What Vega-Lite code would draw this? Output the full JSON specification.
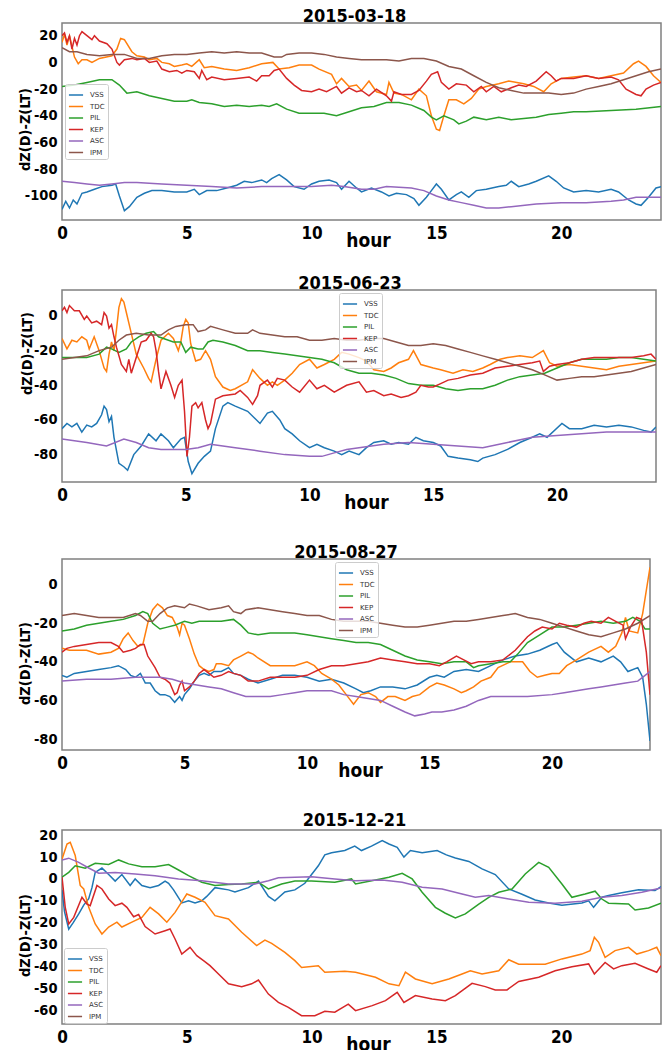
{
"$schema": "https://vega.github.io/schema/vega-lite/v6.json",
"background": "white",
"padding": {"left": 16, "top": 6, "right": 5, "bottom": 5},
"columns": 1,
"align": "none",
"spacing": 22,
"resolve": {"scale": {"color": "independent", "y": "independent", "x": "independent"}, "legend": {"color": "independent"}},
"datasets": {
"d1": [
{"s":"VSS","h":0,"v":-110},{"s":"VSS","h":0.15,"v":-104},{"s":"VSS","h":0.3,"v":-109},{"s":"VSS","h":0.45,"v":-103},{"s":"VSS","h":0.6,"v":-106},{"s":"VSS","h":0.8,"v":-98},{"s":"VSS","h":1,"v":-97},{"s":"VSS","h":1.3,"v":-95},{"s":"VSS","h":1.6,"v":-93},{"s":"VSS","h":2,"v":-92},{"s":"VSS","h":2.15,"v":-91},{"s":"VSS","h":2.3,"v":-100},{"s":"VSS","h":2.5,"v":-111},{"s":"VSS","h":2.7,"v":-108},{"s":"VSS","h":3,"v":-101},{"s":"VSS","h":3.3,"v":-98},{"s":"VSS","h":3.6,"v":-96},{"s":"VSS","h":4,"v":-96},{"s":"VSS","h":4.5,"v":-97},{"s":"VSS","h":5,"v":-97},{"s":"VSS","h":5.3,"v":-95},{"s":"VSS","h":5.5,"v":-99},{"s":"VSS","h":5.8,"v":-96},{"s":"VSS","h":6.2,"v":-96},{"s":"VSS","h":6.6,"v":-94},{"s":"VSS","h":7,"v":-92},{"s":"VSS","h":7.3,"v":-89},{"s":"VSS","h":7.6,"v":-90},{"s":"VSS","h":8,"v":-88},{"s":"VSS","h":8.2,"v":-90},{"s":"VSS","h":8.4,"v":-87},{"s":"VSS","h":8.7,"v":-84},{"s":"VSS","h":9,"v":-88},{"s":"VSS","h":9.3,"v":-93},{"s":"VSS","h":9.7,"v":-95},{"s":"VSS","h":10,"v":-91},{"s":"VSS","h":10.3,"v":-89},{"s":"VSS","h":10.7,"v":-88},{"s":"VSS","h":11,"v":-90},{"s":"VSS","h":11.2,"v":-95},{"s":"VSS","h":11.5,"v":-89},{"s":"VSS","h":11.8,"v":-94},{"s":"VSS","h":12,"v":-97},{"s":"VSS","h":12.4,"v":-94},{"s":"VSS","h":12.8,"v":-97},{"s":"VSS","h":13.1,"v":-100},{"s":"VSS","h":13.4,"v":-98},{"s":"VSS","h":13.8,"v":-99},{"s":"VSS","h":14.1,"v":-102},{"s":"VSS","h":14.3,"v":-107},{"s":"VSS","h":14.6,"v":-101},{"s":"VSS","h":14.8,"v":-96},{"s":"VSS","h":15,"v":-91},{"s":"VSS","h":15.2,"v":-95},{"s":"VSS","h":15.5,"v":-103},{"s":"VSS","h":15.8,"v":-99},{"s":"VSS","h":16,"v":-97},{"s":"VSS","h":16.3,"v":-101},{"s":"VSS","h":16.6,"v":-96},{"s":"VSS","h":17,"v":-95},{"s":"VSS","h":17.5,"v":-93},{"s":"VSS","h":17.8,"v":-92},{"s":"VSS","h":18,"v":-89},{"s":"VSS","h":18.3,"v":-93},{"s":"VSS","h":18.7,"v":-91},{"s":"VSS","h":19,"v":-89},{"s":"VSS","h":19.5,"v":-85},{"s":"VSS","h":19.8,"v":-89},{"s":"VSS","h":20.1,"v":-94},{"s":"VSS","h":20.5,"v":-97},{"s":"VSS","h":21,"v":-96},{"s":"VSS","h":21.5,"v":-97},{"s":"VSS","h":22,"v":-95},{"s":"VSS","h":22.3,"v":-97},{"s":"VSS","h":22.7,"v":-103},{"s":"VSS","h":23,"v":-106},{"s":"VSS","h":23.2,"v":-107},{"s":"VSS","h":23.5,"v":-101},{"s":"VSS","h":23.8,"v":-94},{"s":"VSS","h":24,"v":-93},
{"s":"TDC","h":0,"v":15},{"s":"TDC","h":0.1,"v":21},{"s":"TDC","h":0.2,"v":13},{"s":"TDC","h":0.3,"v":20},{"s":"TDC","h":0.4,"v":12},{"s":"TDC","h":0.5,"v":4},{"s":"TDC","h":0.65,"v":-1},{"s":"TDC","h":0.8,"v":2},{"s":"TDC","h":1,"v":2},{"s":"TDC","h":1.2,"v":0},{"s":"TDC","h":1.5,"v":3},{"s":"TDC","h":2,"v":5},{"s":"TDC","h":2.2,"v":10},{"s":"TDC","h":2.35,"v":18},{"s":"TDC","h":2.5,"v":17},{"s":"TDC","h":2.8,"v":8},{"s":"TDC","h":3,"v":5},{"s":"TDC","h":3.3,"v":4},{"s":"TDC","h":3.5,"v":2},{"s":"TDC","h":3.8,"v":3},{"s":"TDC","h":4,"v":0},{"s":"TDC","h":4.3,"v":-1},{"s":"TDC","h":4.5,"v":-3},{"s":"TDC","h":4.8,"v":-2},{"s":"TDC","h":5,"v":-1},{"s":"TDC","h":5.2,"v":-3},{"s":"TDC","h":5.5,"v":2},{"s":"TDC","h":5.7,"v":-4},{"s":"TDC","h":6,"v":-3},{"s":"TDC","h":6.5,"v":-5},{"s":"TDC","h":7,"v":-6},{"s":"TDC","h":7.5,"v":-4},{"s":"TDC","h":8,"v":-1},{"s":"TDC","h":8.45,"v":0},{"s":"TDC","h":8.7,"v":-5},{"s":"TDC","h":9.1,"v":-4},{"s":"TDC","h":9.5,"v":-2},{"s":"TDC","h":10,"v":-2},{"s":"TDC","h":10.3,"v":-5},{"s":"TDC","h":10.8,"v":-9},{"s":"TDC","h":11,"v":-16},{"s":"TDC","h":11.2,"v":-12},{"s":"TDC","h":11.5,"v":-18},{"s":"TDC","h":11.8,"v":-17},{"s":"TDC","h":12,"v":-21},{"s":"TDC","h":12.3,"v":-14},{"s":"TDC","h":12.6,"v":-22},{"s":"TDC","h":13,"v":-24},{"s":"TDC","h":13.1,"v":-15},{"s":"TDC","h":13.3,"v":-23},{"s":"TDC","h":13.6,"v":-24},{"s":"TDC","h":14,"v":-28},{"s":"TDC","h":14.3,"v":-20},{"s":"TDC","h":14.6,"v":-25},{"s":"TDC","h":14.8,"v":-40},{"s":"TDC","h":15,"v":-50},{"s":"TDC","h":15.13,"v":-51},{"s":"TDC","h":15.3,"v":-40},{"s":"TDC","h":15.5,"v":-28},{"s":"TDC","h":15.8,"v":-28},{"s":"TDC","h":16.1,"v":-31},{"s":"TDC","h":16.4,"v":-27},{"s":"TDC","h":16.7,"v":-20},{"s":"TDC","h":17,"v":-18},{"s":"TDC","h":17.5,"v":-16},{"s":"TDC","h":17.9,"v":-14},{"s":"TDC","h":18.5,"v":-16},{"s":"TDC","h":18.9,"v":-18},{"s":"TDC","h":19.3,"v":-22},{"s":"TDC","h":19.6,"v":-16},{"s":"TDC","h":20,"v":-12},{"s":"TDC","h":20.5,"v":-11},{"s":"TDC","h":21,"v":-10},{"s":"TDC","h":21.5,"v":-12},{"s":"TDC","h":22,"v":-10},{"s":"TDC","h":22.5,"v":-8},{"s":"TDC","h":22.9,"v":-1},{"s":"TDC","h":23.1,"v":1},{"s":"TDC","h":23.4,"v":-3},{"s":"TDC","h":23.7,"v":-10},{"s":"TDC","h":24,"v":-15},
{"s":"PIL","h":0,"v":-18},{"s":"PIL","h":0.5,"v":-17},{"s":"PIL","h":1,"v":-15},{"s":"PIL","h":1.5,"v":-13},{"s":"PIL","h":2,"v":-13},{"s":"PIL","h":2.3,"v":-17},{"s":"PIL","h":2.6,"v":-23},{"s":"PIL","h":3,"v":-22},{"s":"PIL","h":3.5,"v":-25},{"s":"PIL","h":4,"v":-27},{"s":"PIL","h":4.5,"v":-29},{"s":"PIL","h":5,"v":-29},{"s":"PIL","h":5.2,"v":-28},{"s":"PIL","h":5.5,"v":-30},{"s":"PIL","h":6,"v":-31},{"s":"PIL","h":6.5,"v":-33},{"s":"PIL","h":7,"v":-32},{"s":"PIL","h":7.5,"v":-33},{"s":"PIL","h":8,"v":-32},{"s":"PIL","h":8.3,"v":-33},{"s":"PIL","h":8.6,"v":-31},{"s":"PIL","h":9,"v":-35},{"s":"PIL","h":9.5,"v":-38},{"s":"PIL","h":10,"v":-38},{"s":"PIL","h":10.5,"v":-38},{"s":"PIL","h":11,"v":-40},{"s":"PIL","h":11.5,"v":-37},{"s":"PIL","h":12,"v":-34},{"s":"PIL","h":12.5,"v":-33},{"s":"PIL","h":13,"v":-30},{"s":"PIL","h":13.5,"v":-30},{"s":"PIL","h":14,"v":-32},{"s":"PIL","h":14.5,"v":-36},{"s":"PIL","h":14.8,"v":-41},{"s":"PIL","h":15,"v":-43},{"s":"PIL","h":15.3,"v":-40},{"s":"PIL","h":15.7,"v":-43},{"s":"PIL","h":15.9,"v":-46},{"s":"PIL","h":16.2,"v":-44},{"s":"PIL","h":16.5,"v":-41},{"s":"PIL","h":17,"v":-43},{"s":"PIL","h":17.5,"v":-41},{"s":"PIL","h":18,"v":-43},{"s":"PIL","h":18.5,"v":-42},{"s":"PIL","h":19,"v":-41},{"s":"PIL","h":19.5,"v":-39},{"s":"PIL","h":20,"v":-38},{"s":"PIL","h":20.5,"v":-37},{"s":"PIL","h":21,"v":-37},{"s":"PIL","h":22,"v":-36},{"s":"PIL","h":23,"v":-35},{"s":"PIL","h":24,"v":-33},
{"s":"KEP","h":0,"v":20},{"s":"KEP","h":0.1,"v":22},{"s":"KEP","h":0.2,"v":15},{"s":"KEP","h":0.3,"v":20},{"s":"KEP","h":0.4,"v":10},{"s":"KEP","h":0.5,"v":18},{"s":"KEP","h":0.6,"v":13},{"s":"KEP","h":0.7,"v":20},{"s":"KEP","h":0.8,"v":23},{"s":"KEP","h":1,"v":20},{"s":"KEP","h":1.2,"v":17},{"s":"KEP","h":1.3,"v":20},{"s":"KEP","h":1.5,"v":16},{"s":"KEP","h":1.8,"v":14},{"s":"KEP","h":2,"v":10},{"s":"KEP","h":2.2,"v":0},{"s":"KEP","h":2.3,"v":-2},{"s":"KEP","h":2.5,"v":2},{"s":"KEP","h":2.8,"v":3},{"s":"KEP","h":3,"v":2},{"s":"KEP","h":3.3,"v":3},{"s":"KEP","h":3.5,"v":0},{"s":"KEP","h":3.8,"v":1},{"s":"KEP","h":4,"v":-5},{"s":"KEP","h":4.3,"v":-7},{"s":"KEP","h":4.6,"v":-6},{"s":"KEP","h":4.8,"v":-8},{"s":"KEP","h":5,"v":-6},{"s":"KEP","h":5.3,"v":-7},{"s":"KEP","h":5.5,"v":-12},{"s":"KEP","h":5.6,"v":-6},{"s":"KEP","h":5.8,"v":-13},{"s":"KEP","h":6,"v":-11},{"s":"KEP","h":6.5,"v":-13},{"s":"KEP","h":7,"v":-12},{"s":"KEP","h":7.5,"v":-11},{"s":"KEP","h":7.8,"v":-14},{"s":"KEP","h":8,"v":-10},{"s":"KEP","h":8.3,"v":-10},{"s":"KEP","h":8.5,"v":-6},{"s":"KEP","h":8.7,"v":-5},{"s":"KEP","h":9,"v":-12},{"s":"KEP","h":9.3,"v":-17},{"s":"KEP","h":9.6,"v":-21},{"s":"KEP","h":10,"v":-22},{"s":"KEP","h":10.3,"v":-20},{"s":"KEP","h":10.6,"v":-22},{"s":"KEP","h":11,"v":-18},{"s":"KEP","h":11.2,"v":-23},{"s":"KEP","h":11.5,"v":-19},{"s":"KEP","h":11.8,"v":-22},{"s":"KEP","h":12,"v":-21},{"s":"KEP","h":12.3,"v":-25},{"s":"KEP","h":12.6,"v":-20},{"s":"KEP","h":13,"v":-25},{"s":"KEP","h":13.2,"v":-29},{"s":"KEP","h":13.3,"v":-22},{"s":"KEP","h":13.6,"v":-24},{"s":"KEP","h":14,"v":-24},{"s":"KEP","h":14.3,"v":-21},{"s":"KEP","h":14.6,"v":-14},{"s":"KEP","h":14.8,"v":-9},{"s":"KEP","h":15.05,"v":-7},{"s":"KEP","h":15.2,"v":-15},{"s":"KEP","h":15.5,"v":-20},{"s":"KEP","h":15.8,"v":-16},{"s":"KEP","h":16.2,"v":-17},{"s":"KEP","h":16.5,"v":-22},{"s":"KEP","h":16.8,"v":-18},{"s":"KEP","h":17,"v":-22},{"s":"KEP","h":17.3,"v":-18},{"s":"KEP","h":17.6,"v":-22},{"s":"KEP","h":18,"v":-19},{"s":"KEP","h":18.3,"v":-17},{"s":"KEP","h":18.6,"v":-18},{"s":"KEP","h":19,"v":-14},{"s":"KEP","h":19.4,"v":-7},{"s":"KEP","h":19.6,"v":-10},{"s":"KEP","h":19.8,"v":-14},{"s":"KEP","h":20,"v":-12},{"s":"KEP","h":20.5,"v":-12},{"s":"KEP","h":21,"v":-10},{"s":"KEP","h":21.5,"v":-12},{"s":"KEP","h":22,"v":-11},{"s":"KEP","h":22.3,"v":-13},{"s":"KEP","h":22.6,"v":-20},{"s":"KEP","h":23,"v":-24},{"s":"KEP","h":23.2,"v":-25},{"s":"KEP","h":23.4,"v":-20},{"s":"KEP","h":23.7,"v":-17},{"s":"KEP","h":24,"v":-15},
{"s":"ASC","h":0,"v":-89},{"s":"ASC","h":0.5,"v":-90},{"s":"ASC","h":1,"v":-91},{"s":"ASC","h":1.5,"v":-92},{"s":"ASC","h":2,"v":-91},{"s":"ASC","h":2.5,"v":-90},{"s":"ASC","h":3,"v":-90},{"s":"ASC","h":4,"v":-91},{"s":"ASC","h":5,"v":-92},{"s":"ASC","h":6,"v":-93},{"s":"ASC","h":7,"v":-94},{"s":"ASC","h":8,"v":-93},{"s":"ASC","h":9,"v":-93},{"s":"ASC","h":10,"v":-93},{"s":"ASC","h":10.8,"v":-92},{"s":"ASC","h":11.3,"v":-93},{"s":"ASC","h":12,"v":-95},{"s":"ASC","h":12.5,"v":-95},{"s":"ASC","h":13,"v":-93},{"s":"ASC","h":14,"v":-94},{"s":"ASC","h":14.5,"v":-96},{"s":"ASC","h":15,"v":-100},{"s":"ASC","h":15.5,"v":-103},{"s":"ASC","h":16,"v":-105},{"s":"ASC","h":16.5,"v":-107},{"s":"ASC","h":17,"v":-109},{"s":"ASC","h":17.5,"v":-109},{"s":"ASC","h":18,"v":-108},{"s":"ASC","h":19,"v":-106},{"s":"ASC","h":20,"v":-105},{"s":"ASC","h":21,"v":-105},{"s":"ASC","h":22,"v":-104},{"s":"ASC","h":22.5,"v":-103},{"s":"ASC","h":23,"v":-101},{"s":"ASC","h":23.5,"v":-101},{"s":"ASC","h":24,"v":-101},
{"s":"IPM","h":0,"v":11},{"s":"IPM","h":0.3,"v":8},{"s":"IPM","h":0.6,"v":8},{"s":"IPM","h":1,"v":6},{"s":"IPM","h":1.5,"v":5},{"s":"IPM","h":2,"v":6},{"s":"IPM","h":2.5,"v":6},{"s":"IPM","h":3,"v":3},{"s":"IPM","h":3.5,"v":3},{"s":"IPM","h":4,"v":5},{"s":"IPM","h":4.5,"v":6},{"s":"IPM","h":5,"v":6},{"s":"IPM","h":5.5,"v":7},{"s":"IPM","h":6,"v":8},{"s":"IPM","h":6.5,"v":7},{"s":"IPM","h":7,"v":8},{"s":"IPM","h":7.5,"v":7},{"s":"IPM","h":8,"v":7},{"s":"IPM","h":8.5,"v":4},{"s":"IPM","h":8.8,"v":4},{"s":"IPM","h":9,"v":6},{"s":"IPM","h":9.5,"v":7},{"s":"IPM","h":10,"v":7},{"s":"IPM","h":10.5,"v":6},{"s":"IPM","h":11,"v":4},{"s":"IPM","h":11.5,"v":3},{"s":"IPM","h":12,"v":2},{"s":"IPM","h":12.5,"v":2},{"s":"IPM","h":13,"v":2},{"s":"IPM","h":13.5,"v":1},{"s":"IPM","h":14,"v":3},{"s":"IPM","h":14.5,"v":3},{"s":"IPM","h":15,"v":1},{"s":"IPM","h":15.5,"v":-3},{"s":"IPM","h":16,"v":-5},{"s":"IPM","h":16.5,"v":-10},{"s":"IPM","h":17,"v":-15},{"s":"IPM","h":17.5,"v":-19},{"s":"IPM","h":18,"v":-21},{"s":"IPM","h":18.5,"v":-23},{"s":"IPM","h":19,"v":-23},{"s":"IPM","h":19.5,"v":-23},{"s":"IPM","h":20,"v":-24},{"s":"IPM","h":20.5,"v":-23},{"s":"IPM","h":21,"v":-20},{"s":"IPM","h":21.5,"v":-18},{"s":"IPM","h":22,"v":-16},{"s":"IPM","h":22.5,"v":-13},{"s":"IPM","h":23,"v":-10},{"s":"IPM","h":23.5,"v":-7},{"s":"IPM","h":24,"v":-5}
],
"d2": [
{"s":"VSS","h":0,"v":-65},{"s":"VSS","h":0.2,"v":-62},{"s":"VSS","h":0.4,"v":-64},{"s":"VSS","h":0.6,"v":-62},{"s":"VSS","h":0.8,"v":-67},{"s":"VSS","h":1,"v":-63},{"s":"VSS","h":1.2,"v":-64},{"s":"VSS","h":1.4,"v":-62},{"s":"VSS","h":1.6,"v":-57},{"s":"VSS","h":1.7,"v":-52},{"s":"VSS","h":1.8,"v":-54},{"s":"VSS","h":1.9,"v":-61},{"s":"VSS","h":2,"v":-58},{"s":"VSS","h":2.1,"v":-70},{"s":"VSS","h":2.3,"v":-85},{"s":"VSS","h":2.5,"v":-87},{"s":"VSS","h":2.65,"v":-89},{"s":"VSS","h":2.9,"v":-80},{"s":"VSS","h":3.2,"v":-75},{"s":"VSS","h":3.5,"v":-68},{"s":"VSS","h":3.8,"v":-72},{"s":"VSS","h":4,"v":-68},{"s":"VSS","h":4.3,"v":-72},{"s":"VSS","h":4.5,"v":-76},{"s":"VSS","h":4.8,"v":-71},{"s":"VSS","h":4.95,"v":-70},{"s":"VSS","h":5.1,"v":-84},{"s":"VSS","h":5.25,"v":-91},{"s":"VSS","h":5.5,"v":-85},{"s":"VSS","h":5.75,"v":-81},{"s":"VSS","h":6,"v":-78},{"s":"VSS","h":6.2,"v":-65},{"s":"VSS","h":6.5,"v":-52},{"s":"VSS","h":6.7,"v":-50},{"s":"VSS","h":7,"v":-52},{"s":"VSS","h":7.5,"v":-55},{"s":"VSS","h":8,"v":-62},{"s":"VSS","h":8.3,"v":-56},{"s":"VSS","h":8.5,"v":-55},{"s":"VSS","h":8.8,"v":-60},{"s":"VSS","h":9,"v":-65},{"s":"VSS","h":9.3,"v":-68},{"s":"VSS","h":9.6,"v":-72},{"s":"VSS","h":10,"v":-76},{"s":"VSS","h":10.3,"v":-74},{"s":"VSS","h":10.6,"v":-76},{"s":"VSS","h":11,"v":-78},{"s":"VSS","h":11.3,"v":-80},{"s":"VSS","h":11.6,"v":-78},{"s":"VSS","h":12,"v":-80},{"s":"VSS","h":12.3,"v":-76},{"s":"VSS","h":12.6,"v":-73},{"s":"VSS","h":13,"v":-72},{"s":"VSS","h":13.3,"v":-74},{"s":"VSS","h":13.6,"v":-73},{"s":"VSS","h":14,"v":-74},{"s":"VSS","h":14.3,"v":-70},{"s":"VSS","h":14.6,"v":-72},{"s":"VSS","h":15,"v":-73},{"s":"VSS","h":15.3,"v":-75},{"s":"VSS","h":15.6,"v":-81},{"s":"VSS","h":16,"v":-82},{"s":"VSS","h":16.5,"v":-83},{"s":"VSS","h":16.8,"v":-84},{"s":"VSS","h":17,"v":-82},{"s":"VSS","h":17.5,"v":-80},{"s":"VSS","h":18,"v":-77},{"s":"VSS","h":18.5,"v":-73},{"s":"VSS","h":19,"v":-70},{"s":"VSS","h":19.3,"v":-68},{"s":"VSS","h":19.6,"v":-70},{"s":"VSS","h":20.2,"v":-62},{"s":"VSS","h":20.5,"v":-65},{"s":"VSS","h":21,"v":-65},{"s":"VSS","h":21.5,"v":-63},{"s":"VSS","h":22,"v":-64},{"s":"VSS","h":22.5,"v":-63},{"s":"VSS","h":23,"v":-64},{"s":"VSS","h":23.5,"v":-66},{"s":"VSS","h":23.8,"v":-67},{"s":"VSS","h":24,"v":-64},
{"s":"TDC","h":0,"v":-13},{"s":"TDC","h":0.2,"v":-19},{"s":"TDC","h":0.4,"v":-14},{"s":"TDC","h":0.6,"v":-15},{"s":"TDC","h":0.8,"v":-12},{"s":"TDC","h":1,"v":-14},{"s":"TDC","h":1.1,"v":-19},{"s":"TDC","h":1.3,"v":-12},{"s":"TDC","h":1.5,"v":-20},{"s":"TDC","h":1.7,"v":-30},{"s":"TDC","h":1.8,"v":-32},{"s":"TDC","h":1.9,"v":-22},{"s":"TDC","h":2,"v":-15},{"s":"TDC","h":2.1,"v":-20},{"s":"TDC","h":2.2,"v":-8},{"s":"TDC","h":2.3,"v":5},{"s":"TDC","h":2.4,"v":10},{"s":"TDC","h":2.5,"v":8},{"s":"TDC","h":2.6,"v":2},{"s":"TDC","h":2.8,"v":-10},{"s":"TDC","h":3,"v":-22},{"s":"TDC","h":3.3,"v":-30},{"s":"TDC","h":3.5,"v":-36},{"s":"TDC","h":3.6,"v":-38},{"s":"TDC","h":3.8,"v":-25},{"s":"TDC","h":4,"v":-14},{"s":"TDC","h":4.3,"v":-10},{"s":"TDC","h":4.5,"v":-13},{"s":"TDC","h":4.7,"v":-20},{"s":"TDC","h":4.8,"v":-15},{"s":"TDC","h":4.9,"v":-6},{"s":"TDC","h":5,"v":-2},{"s":"TDC","h":5.1,"v":-4},{"s":"TDC","h":5.2,"v":-16},{"s":"TDC","h":5.4,"v":-26},{"s":"TDC","h":5.6,"v":-25},{"s":"TDC","h":5.8,"v":-20},{"s":"TDC","h":6,"v":-25},{"s":"TDC","h":6.2,"v":-35},{"s":"TDC","h":6.5,"v":-41},{"s":"TDC","h":6.8,"v":-43},{"s":"TDC","h":7,"v":-42},{"s":"TDC","h":7.5,"v":-38},{"s":"TDC","h":7.7,"v":-31},{"s":"TDC","h":8,"v":-36},{"s":"TDC","h":8.3,"v":-40},{"s":"TDC","h":8.5,"v":-38},{"s":"TDC","h":8.7,"v":-40},{"s":"TDC","h":9,"v":-37},{"s":"TDC","h":9.3,"v":-33},{"s":"TDC","h":9.6,"v":-28},{"s":"TDC","h":10,"v":-25},{"s":"TDC","h":10.3,"v":-30},{"s":"TDC","h":10.6,"v":-28},{"s":"TDC","h":11,"v":-25},{"s":"TDC","h":11.3,"v":-21},{"s":"TDC","h":11.6,"v":-22},{"s":"TDC","h":12,"v":-24},{"s":"TDC","h":12.3,"v":-26},{"s":"TDC","h":12.6,"v":-31},{"s":"TDC","h":13,"v":-32},{"s":"TDC","h":13.3,"v":-30},{"s":"TDC","h":13.6,"v":-27},{"s":"TDC","h":14,"v":-25},{"s":"TDC","h":14.2,"v":-20},{"s":"TDC","h":14.5,"v":-28},{"s":"TDC","h":15,"v":-30},{"s":"TDC","h":15.3,"v":-31},{"s":"TDC","h":15.8,"v":-33},{"s":"TDC","h":16.2,"v":-31},{"s":"TDC","h":16.6,"v":-32},{"s":"TDC","h":17,"v":-30},{"s":"TDC","h":17.3,"v":-28},{"s":"TDC","h":17.7,"v":-25},{"s":"TDC","h":18,"v":-24},{"s":"TDC","h":18.5,"v":-23},{"s":"TDC","h":19,"v":-24},{"s":"TDC","h":19.45,"v":-20},{"s":"TDC","h":19.7,"v":-27},{"s":"TDC","h":20,"v":-29},{"s":"TDC","h":20.5,"v":-28},{"s":"TDC","h":21,"v":-29},{"s":"TDC","h":21.5,"v":-30},{"s":"TDC","h":22,"v":-31},{"s":"TDC","h":22.5,"v":-29},{"s":"TDC","h":23,"v":-28},{"s":"TDC","h":23.5,"v":-27},{"s":"TDC","h":24,"v":-26},
{"s":"PIL","h":0,"v":-24},{"s":"PIL","h":0.5,"v":-24},{"s":"PIL","h":1,"v":-24},{"s":"PIL","h":1.5,"v":-22},{"s":"PIL","h":1.8,"v":-18},{"s":"PIL","h":2,"v":-19},{"s":"PIL","h":2.3,"v":-21},{"s":"PIL","h":2.6,"v":-19},{"s":"PIL","h":2.8,"v":-15},{"s":"PIL","h":3.1,"v":-12},{"s":"PIL","h":3.4,"v":-10},{"s":"PIL","h":3.7,"v":-9},{"s":"PIL","h":3.9,"v":-12},{"s":"PIL","h":4.1,"v":-13},{"s":"PIL","h":4.5,"v":-15},{"s":"PIL","h":4.8,"v":-15},{"s":"PIL","h":5,"v":-21},{"s":"PIL","h":5.2,"v":-18},{"s":"PIL","h":5.5,"v":-19},{"s":"PIL","h":5.7,"v":-19},{"s":"PIL","h":5.9,"v":-15},{"s":"PIL","h":6.1,"v":-14},{"s":"PIL","h":6.5,"v":-15},{"s":"PIL","h":7,"v":-17},{"s":"PIL","h":7.5,"v":-20},{"s":"PIL","h":8,"v":-20},{"s":"PIL","h":8.5,"v":-21},{"s":"PIL","h":9,"v":-22},{"s":"PIL","h":9.5,"v":-23},{"s":"PIL","h":10,"v":-24},{"s":"PIL","h":10.5,"v":-25},{"s":"PIL","h":11,"v":-27},{"s":"PIL","h":11.5,"v":-31},{"s":"PIL","h":12,"v":-33},{"s":"PIL","h":12.5,"v":-33},{"s":"PIL","h":13,"v":-34},{"s":"PIL","h":13.5,"v":-36},{"s":"PIL","h":14,"v":-39},{"s":"PIL","h":14.5,"v":-40},{"s":"PIL","h":15,"v":-40},{"s":"PIL","h":15.5,"v":-42},{"s":"PIL","h":16,"v":-43},{"s":"PIL","h":16.5,"v":-42},{"s":"PIL","h":17,"v":-42},{"s":"PIL","h":17.5,"v":-40},{"s":"PIL","h":18,"v":-37},{"s":"PIL","h":18.5,"v":-35},{"s":"PIL","h":19,"v":-34},{"s":"PIL","h":19.5,"v":-33},{"s":"PIL","h":20,"v":-30},{"s":"PIL","h":20.5,"v":-27},{"s":"PIL","h":21,"v":-25},{"s":"PIL","h":21.5,"v":-25},{"s":"PIL","h":22,"v":-25},{"s":"PIL","h":22.5,"v":-24},{"s":"PIL","h":23,"v":-24},{"s":"PIL","h":23.5,"v":-25},{"s":"PIL","h":24,"v":-26},
{"s":"KEP","h":0,"v":3},{"s":"KEP","h":0.1,"v":5},{"s":"KEP","h":0.2,"v":2},{"s":"KEP","h":0.3,"v":6},{"s":"KEP","h":0.5,"v":3},{"s":"KEP","h":0.7,"v":3},{"s":"KEP","h":0.9,"v":-2},{"s":"KEP","h":1,"v":0},{"s":"KEP","h":1.2,"v":-4},{"s":"KEP","h":1.4,"v":-3},{"s":"KEP","h":1.6,"v":-5},{"s":"KEP","h":1.7,"v":2},{"s":"KEP","h":1.8,"v":0},{"s":"KEP","h":1.9,"v":-7},{"s":"KEP","h":2,"v":-5},{"s":"KEP","h":2.1,"v":-12},{"s":"KEP","h":2.2,"v":-18},{"s":"KEP","h":2.4,"v":-28},{"s":"KEP","h":2.6,"v":-32},{"s":"KEP","h":2.7,"v":-25},{"s":"KEP","h":2.8,"v":-33},{"s":"KEP","h":3,"v":-24},{"s":"KEP","h":3.2,"v":-15},{"s":"KEP","h":3.4,"v":-14},{"s":"KEP","h":3.6,"v":-10},{"s":"KEP","h":3.7,"v":-12},{"s":"KEP","h":3.8,"v":-20},{"s":"KEP","h":3.9,"v":-32},{"s":"KEP","h":4,"v":-42},{"s":"KEP","h":4.2,"v":-32},{"s":"KEP","h":4.4,"v":-40},{"s":"KEP","h":4.55,"v":-47},{"s":"KEP","h":4.7,"v":-40},{"s":"KEP","h":4.85,"v":-37},{"s":"KEP","h":4.95,"v":-55},{"s":"KEP","h":5.05,"v":-81},{"s":"KEP","h":5.15,"v":-70},{"s":"KEP","h":5.25,"v":-52},{"s":"KEP","h":5.4,"v":-50},{"s":"KEP","h":5.5,"v":-53},{"s":"KEP","h":5.65,"v":-50},{"s":"KEP","h":5.8,"v":-60},{"s":"KEP","h":5.9,"v":-65},{"s":"KEP","h":6,"v":-62},{"s":"KEP","h":6.2,"v":-48},{"s":"KEP","h":6.5,"v":-46},{"s":"KEP","h":7,"v":-45},{"s":"KEP","h":7.2,"v":-43},{"s":"KEP","h":7.5,"v":-47},{"s":"KEP","h":7.7,"v":-51},{"s":"KEP","h":7.9,"v":-46},{"s":"KEP","h":8,"v":-40},{"s":"KEP","h":8.3,"v":-37},{"s":"KEP","h":8.5,"v":-41},{"s":"KEP","h":8.7,"v":-36},{"s":"KEP","h":9,"v":-37},{"s":"KEP","h":9.3,"v":-41},{"s":"KEP","h":9.6,"v":-44},{"s":"KEP","h":10,"v":-37},{"s":"KEP","h":10.3,"v":-42},{"s":"KEP","h":10.6,"v":-40},{"s":"KEP","h":11,"v":-44},{"s":"KEP","h":11.5,"v":-40},{"s":"KEP","h":12,"v":-38},{"s":"KEP","h":12.3,"v":-44},{"s":"KEP","h":12.6,"v":-43},{"s":"KEP","h":13,"v":-46},{"s":"KEP","h":13.3,"v":-45},{"s":"KEP","h":13.7,"v":-47},{"s":"KEP","h":14,"v":-46},{"s":"KEP","h":14.3,"v":-44},{"s":"KEP","h":14.5,"v":-40},{"s":"KEP","h":14.8,"v":-41},{"s":"KEP","h":15,"v":-41},{"s":"KEP","h":15.3,"v":-39},{"s":"KEP","h":15.6,"v":-37},{"s":"KEP","h":16,"v":-36},{"s":"KEP","h":16.5,"v":-34},{"s":"KEP","h":17,"v":-33},{"s":"KEP","h":17.5,"v":-30},{"s":"KEP","h":18,"v":-29},{"s":"KEP","h":18.5,"v":-28},{"s":"KEP","h":19,"v":-27},{"s":"KEP","h":19.3,"v":-26},{"s":"KEP","h":19.45,"v":-32},{"s":"KEP","h":19.7,"v":-29},{"s":"KEP","h":20,"v":-28},{"s":"KEP","h":20.5,"v":-27},{"s":"KEP","h":21,"v":-25},{"s":"KEP","h":21.5,"v":-24},{"s":"KEP","h":22,"v":-24},{"s":"KEP","h":22.5,"v":-24},{"s":"KEP","h":23,"v":-24},{"s":"KEP","h":23.5,"v":-23},{"s":"KEP","h":23.8,"v":-22},{"s":"KEP","h":24,"v":-25},
{"s":"ASC","h":0,"v":-71},{"s":"ASC","h":1,"v":-73},{"s":"ASC","h":1.8,"v":-75},{"s":"ASC","h":2.5,"v":-71},{"s":"ASC","h":3,"v":-73},{"s":"ASC","h":3.5,"v":-76},{"s":"ASC","h":4,"v":-77},{"s":"ASC","h":5,"v":-77},{"s":"ASC","h":5.5,"v":-76},{"s":"ASC","h":6,"v":-74},{"s":"ASC","h":6.5,"v":-75},{"s":"ASC","h":7,"v":-76},{"s":"ASC","h":8,"v":-78},{"s":"ASC","h":9,"v":-80},{"s":"ASC","h":10,"v":-81},{"s":"ASC","h":10.5,"v":-81},{"s":"ASC","h":11,"v":-79},{"s":"ASC","h":11.5,"v":-77},{"s":"ASC","h":12,"v":-76},{"s":"ASC","h":13,"v":-74},{"s":"ASC","h":14,"v":-73},{"s":"ASC","h":15,"v":-74},{"s":"ASC","h":16,"v":-75},{"s":"ASC","h":17,"v":-76},{"s":"ASC","h":18,"v":-73},{"s":"ASC","h":19,"v":-70},{"s":"ASC","h":20,"v":-69},{"s":"ASC","h":21,"v":-68},{"s":"ASC","h":22,"v":-67},{"s":"ASC","h":23,"v":-67},{"s":"ASC","h":24,"v":-67},
{"s":"IPM","h":0,"v":-25},{"s":"IPM","h":0.5,"v":-24},{"s":"IPM","h":1,"v":-23},{"s":"IPM","h":1.5,"v":-20},{"s":"IPM","h":2,"v":-18},{"s":"IPM","h":2.3,"v":-14},{"s":"IPM","h":2.6,"v":-11},{"s":"IPM","h":3,"v":-10},{"s":"IPM","h":3.5,"v":-11},{"s":"IPM","h":4,"v":-11},{"s":"IPM","h":4.3,"v":-8},{"s":"IPM","h":4.6,"v":-6},{"s":"IPM","h":5,"v":-5},{"s":"IPM","h":5.3,"v":-5},{"s":"IPM","h":5.5,"v":-9},{"s":"IPM","h":5.8,"v":-8},{"s":"IPM","h":6,"v":-6},{"s":"IPM","h":6.5,"v":-8},{"s":"IPM","h":7,"v":-10},{"s":"IPM","h":7.5,"v":-10},{"s":"IPM","h":7.7,"v":-8},{"s":"IPM","h":8,"v":-10},{"s":"IPM","h":8.5,"v":-11},{"s":"IPM","h":9,"v":-12},{"s":"IPM","h":9.5,"v":-12},{"s":"IPM","h":10,"v":-14},{"s":"IPM","h":10.5,"v":-14},{"s":"IPM","h":11,"v":-13},{"s":"IPM","h":11.5,"v":-14},{"s":"IPM","h":12,"v":-14},{"s":"IPM","h":12.5,"v":-13},{"s":"IPM","h":13,"v":-13},{"s":"IPM","h":13.5,"v":-15},{"s":"IPM","h":14,"v":-17},{"s":"IPM","h":14.5,"v":-17},{"s":"IPM","h":15,"v":-16},{"s":"IPM","h":15.5,"v":-17},{"s":"IPM","h":16,"v":-19},{"s":"IPM","h":16.5,"v":-21},{"s":"IPM","h":17,"v":-23},{"s":"IPM","h":17.5,"v":-25},{"s":"IPM","h":18,"v":-27},{"s":"IPM","h":18.5,"v":-29},{"s":"IPM","h":19,"v":-31},{"s":"IPM","h":19.5,"v":-34},{"s":"IPM","h":20,"v":-37},{"s":"IPM","h":20.5,"v":-36},{"s":"IPM","h":21,"v":-35},{"s":"IPM","h":21.5,"v":-35},{"s":"IPM","h":22,"v":-34},{"s":"IPM","h":22.5,"v":-33},{"s":"IPM","h":23,"v":-32},{"s":"IPM","h":23.5,"v":-30},{"s":"IPM","h":24,"v":-28}
],
"d3": [
{"s":"VSS","h":0,"v":-47},{"s":"VSS","h":0.2,"v":-48},{"s":"VSS","h":0.5,"v":-46},{"s":"VSS","h":1,"v":-45},{"s":"VSS","h":1.5,"v":-44},{"s":"VSS","h":2,"v":-43},{"s":"VSS","h":2.3,"v":-42},{"s":"VSS","h":2.6,"v":-44},{"s":"VSS","h":2.8,"v":-47},{"s":"VSS","h":3,"v":-48},{"s":"VSS","h":3.2,"v":-46},{"s":"VSS","h":3.4,"v":-51},{"s":"VSS","h":3.6,"v":-51},{"s":"VSS","h":3.8,"v":-55},{"s":"VSS","h":4,"v":-57},{"s":"VSS","h":4.2,"v":-57},{"s":"VSS","h":4.4,"v":-58},{"s":"VSS","h":4.6,"v":-61},{"s":"VSS","h":4.8,"v":-58},{"s":"VSS","h":4.9,"v":-60},{"s":"VSS","h":5,"v":-57},{"s":"VSS","h":5.2,"v":-54},{"s":"VSS","h":5.4,"v":-50},{"s":"VSS","h":5.6,"v":-47},{"s":"VSS","h":5.8,"v":-46},{"s":"VSS","h":6,"v":-47},{"s":"VSS","h":6.2,"v":-45},{"s":"VSS","h":6.5,"v":-45},{"s":"VSS","h":6.8,"v":-43},{"s":"VSS","h":7,"v":-46},{"s":"VSS","h":7.3,"v":-47},{"s":"VSS","h":7.6,"v":-49},{"s":"VSS","h":8,"v":-51},{"s":"VSS","h":8.5,"v":-49},{"s":"VSS","h":9,"v":-47},{"s":"VSS","h":9.5,"v":-47},{"s":"VSS","h":10,"v":-48},{"s":"VSS","h":10.5,"v":-50},{"s":"VSS","h":11,"v":-49},{"s":"VSS","h":11.5,"v":-51},{"s":"VSS","h":12,"v":-54},{"s":"VSS","h":12.3,"v":-56},{"s":"VSS","h":12.6,"v":-55},{"s":"VSS","h":13,"v":-53},{"s":"VSS","h":13.5,"v":-53},{"s":"VSS","h":14,"v":-54},{"s":"VSS","h":14.5,"v":-52},{"s":"VSS","h":15,"v":-48},{"s":"VSS","h":15.3,"v":-47},{"s":"VSS","h":15.6,"v":-48},{"s":"VSS","h":16,"v":-45},{"s":"VSS","h":16.5,"v":-44},{"s":"VSS","h":17,"v":-45},{"s":"VSS","h":17.5,"v":-42},{"s":"VSS","h":18,"v":-39},{"s":"VSS","h":18.5,"v":-37},{"s":"VSS","h":19,"v":-36},{"s":"VSS","h":19.5,"v":-34},{"s":"VSS","h":20,"v":-31},{"s":"VSS","h":20.2,"v":-30},{"s":"VSS","h":20.5,"v":-35},{"s":"VSS","h":21,"v":-40},{"s":"VSS","h":21.5,"v":-38},{"s":"VSS","h":22,"v":-40},{"s":"VSS","h":22.5,"v":-37},{"s":"VSS","h":22.8,"v":-40},{"s":"VSS","h":23.1,"v":-45},{"s":"VSS","h":23.5,"v":-43},{"s":"VSS","h":23.7,"v":-48},{"s":"VSS","h":23.85,"v":-62},{"s":"VSS","h":24,"v":-81},
{"s":"TDC","h":0,"v":-33},{"s":"TDC","h":0.3,"v":-34},{"s":"TDC","h":0.6,"v":-34},{"s":"TDC","h":1,"v":-34},{"s":"TDC","h":1.5,"v":-36},{"s":"TDC","h":2,"v":-35},{"s":"TDC","h":2.3,"v":-33},{"s":"TDC","h":2.5,"v":-28},{"s":"TDC","h":2.7,"v":-25},{"s":"TDC","h":2.9,"v":-29},{"s":"TDC","h":3.1,"v":-32},{"s":"TDC","h":3.3,"v":-31},{"s":"TDC","h":3.5,"v":-20},{"s":"TDC","h":3.7,"v":-13},{"s":"TDC","h":3.9,"v":-10},{"s":"TDC","h":4.1,"v":-12},{"s":"TDC","h":4.3,"v":-16},{"s":"TDC","h":4.5,"v":-17},{"s":"TDC","h":4.7,"v":-22},{"s":"TDC","h":4.8,"v":-26},{"s":"TDC","h":4.9,"v":-20},{"s":"TDC","h":5,"v":-21},{"s":"TDC","h":5.2,"v":-28},{"s":"TDC","h":5.4,"v":-36},{"s":"TDC","h":5.6,"v":-42},{"s":"TDC","h":5.8,"v":-44},{"s":"TDC","h":6,"v":-45},{"s":"TDC","h":6.2,"v":-44},{"s":"TDC","h":6.3,"v":-41},{"s":"TDC","h":6.5,"v":-41},{"s":"TDC","h":6.8,"v":-42},{"s":"TDC","h":7,"v":-39},{"s":"TDC","h":7.3,"v":-37},{"s":"TDC","h":7.6,"v":-35},{"s":"TDC","h":7.8,"v":-36},{"s":"TDC","h":8,"v":-38},{"s":"TDC","h":8.5,"v":-42},{"s":"TDC","h":9,"v":-42},{"s":"TDC","h":9.5,"v":-42},{"s":"TDC","h":10,"v":-40},{"s":"TDC","h":10.3,"v":-42},{"s":"TDC","h":10.6,"v":-46},{"s":"TDC","h":11,"v":-49},{"s":"TDC","h":11.3,"v":-52},{"s":"TDC","h":11.6,"v":-57},{"s":"TDC","h":11.9,"v":-62},{"s":"TDC","h":12.2,"v":-57},{"s":"TDC","h":12.5,"v":-56},{"s":"TDC","h":12.8,"v":-58},{"s":"TDC","h":13,"v":-61},{"s":"TDC","h":13.3,"v":-58},{"s":"TDC","h":13.6,"v":-58},{"s":"TDC","h":14,"v":-60},{"s":"TDC","h":14.3,"v":-58},{"s":"TDC","h":14.6,"v":-57},{"s":"TDC","h":15,"v":-53},{"s":"TDC","h":15.3,"v":-51},{"s":"TDC","h":15.6,"v":-52},{"s":"TDC","h":16,"v":-54},{"s":"TDC","h":16.3,"v":-56},{"s":"TDC","h":16.5,"v":-55},{"s":"TDC","h":16.8,"v":-53},{"s":"TDC","h":17.1,"v":-50},{"s":"TDC","h":17.5,"v":-48},{"s":"TDC","h":17.8,"v":-43},{"s":"TDC","h":18.3,"v":-40},{"s":"TDC","h":18.8,"v":-40},{"s":"TDC","h":19.1,"v":-45},{"s":"TDC","h":19.4,"v":-48},{"s":"TDC","h":19.7,"v":-47},{"s":"TDC","h":20,"v":-46},{"s":"TDC","h":20.3,"v":-46},{"s":"TDC","h":20.6,"v":-42},{"s":"TDC","h":21,"v":-39},{"s":"TDC","h":21.5,"v":-35},{"s":"TDC","h":22,"v":-32},{"s":"TDC","h":22.3,"v":-35},{"s":"TDC","h":22.6,"v":-32},{"s":"TDC","h":22.85,"v":-25},{"s":"TDC","h":23,"v":-17},{"s":"TDC","h":23.15,"v":-24},{"s":"TDC","h":23.5,"v":-25},{"s":"TDC","h":23.7,"v":-15},{"s":"TDC","h":23.85,"v":-3},{"s":"TDC","h":24,"v":9},
{"s":"PIL","h":0,"v":-24},{"s":"PIL","h":0.5,"v":-23},{"s":"PIL","h":1,"v":-21},{"s":"PIL","h":1.5,"v":-20},{"s":"PIL","h":2,"v":-19},{"s":"PIL","h":2.5,"v":-18},{"s":"PIL","h":3,"v":-16},{"s":"PIL","h":3.3,"v":-14},{"s":"PIL","h":3.5,"v":-15},{"s":"PIL","h":3.7,"v":-20},{"s":"PIL","h":4,"v":-23},{"s":"PIL","h":4.3,"v":-22},{"s":"PIL","h":4.6,"v":-21},{"s":"PIL","h":5,"v":-19},{"s":"PIL","h":5.3,"v":-20},{"s":"PIL","h":5.6,"v":-19},{"s":"PIL","h":6,"v":-19},{"s":"PIL","h":6.5,"v":-19},{"s":"PIL","h":7,"v":-18},{"s":"PIL","h":7.3,"v":-21},{"s":"PIL","h":7.6,"v":-25},{"s":"PIL","h":8,"v":-26},{"s":"PIL","h":8.5,"v":-25},{"s":"PIL","h":9,"v":-25},{"s":"PIL","h":9.5,"v":-25},{"s":"PIL","h":10,"v":-26},{"s":"PIL","h":10.5,"v":-27},{"s":"PIL","h":11,"v":-28},{"s":"PIL","h":11.5,"v":-29},{"s":"PIL","h":12,"v":-30},{"s":"PIL","h":12.5,"v":-30},{"s":"PIL","h":13,"v":-31},{"s":"PIL","h":13.5,"v":-34},{"s":"PIL","h":14,"v":-37},{"s":"PIL","h":14.5,"v":-39},{"s":"PIL","h":15,"v":-40},{"s":"PIL","h":15.5,"v":-41},{"s":"PIL","h":16,"v":-40},{"s":"PIL","h":16.5,"v":-40},{"s":"PIL","h":16.8,"v":-43},{"s":"PIL","h":17,"v":-42},{"s":"PIL","h":17.5,"v":-41},{"s":"PIL","h":18,"v":-40},{"s":"PIL","h":18.3,"v":-40},{"s":"PIL","h":18.6,"v":-36},{"s":"PIL","h":19,"v":-30},{"s":"PIL","h":19.5,"v":-26},{"s":"PIL","h":20,"v":-22},{"s":"PIL","h":20.5,"v":-22},{"s":"PIL","h":21,"v":-21},{"s":"PIL","h":21.5,"v":-20},{"s":"PIL","h":22,"v":-19},{"s":"PIL","h":22.5,"v":-20},{"s":"PIL","h":23,"v":-19},{"s":"PIL","h":23.3,"v":-17},{"s":"PIL","h":23.6,"v":-19},{"s":"PIL","h":23.8,"v":-23},{"s":"PIL","h":24,"v":-23},
{"s":"KEP","h":0,"v":-35},{"s":"KEP","h":0.2,"v":-33},{"s":"KEP","h":0.5,"v":-32},{"s":"KEP","h":1,"v":-31},{"s":"KEP","h":1.5,"v":-30},{"s":"KEP","h":2,"v":-30},{"s":"KEP","h":2.3,"v":-32},{"s":"KEP","h":2.5,"v":-35},{"s":"KEP","h":2.8,"v":-34},{"s":"KEP","h":3,"v":-33},{"s":"KEP","h":3.2,"v":-31},{"s":"KEP","h":3.35,"v":-31},{"s":"KEP","h":3.5,"v":-37},{"s":"KEP","h":3.8,"v":-43},{"s":"KEP","h":4,"v":-48},{"s":"KEP","h":4.2,"v":-49},{"s":"KEP","h":4.4,"v":-51},{"s":"KEP","h":4.6,"v":-57},{"s":"KEP","h":4.7,"v":-56},{"s":"KEP","h":4.8,"v":-52},{"s":"KEP","h":4.9,"v":-50},{"s":"KEP","h":5,"v":-55},{"s":"KEP","h":5.2,"v":-53},{"s":"KEP","h":5.4,"v":-50},{"s":"KEP","h":5.6,"v":-46},{"s":"KEP","h":5.8,"v":-44},{"s":"KEP","h":6,"v":-46},{"s":"KEP","h":6.2,"v":-48},{"s":"KEP","h":6.5,"v":-47},{"s":"KEP","h":6.8,"v":-45},{"s":"KEP","h":7,"v":-46},{"s":"KEP","h":7.3,"v":-47},{"s":"KEP","h":7.6,"v":-50},{"s":"KEP","h":8,"v":-50},{"s":"KEP","h":8.5,"v":-48},{"s":"KEP","h":9,"v":-48},{"s":"KEP","h":9.5,"v":-48},{"s":"KEP","h":10,"v":-47},{"s":"KEP","h":10.5,"v":-44},{"s":"KEP","h":11,"v":-42},{"s":"KEP","h":11.5,"v":-42},{"s":"KEP","h":12,"v":-41},{"s":"KEP","h":12.5,"v":-40},{"s":"KEP","h":13,"v":-38},{"s":"KEP","h":13.5,"v":-39},{"s":"KEP","h":14,"v":-40},{"s":"KEP","h":14.5,"v":-41},{"s":"KEP","h":15,"v":-41},{"s":"KEP","h":15.4,"v":-42},{"s":"KEP","h":15.7,"v":-40},{"s":"KEP","h":16.1,"v":-37},{"s":"KEP","h":16.4,"v":-39},{"s":"KEP","h":16.7,"v":-41},{"s":"KEP","h":17,"v":-40},{"s":"KEP","h":17.5,"v":-40},{"s":"KEP","h":18,"v":-39},{"s":"KEP","h":18.5,"v":-34},{"s":"KEP","h":19,"v":-27},{"s":"KEP","h":19.3,"v":-24},{"s":"KEP","h":19.6,"v":-22},{"s":"KEP","h":20,"v":-23},{"s":"KEP","h":20.3,"v":-20},{"s":"KEP","h":20.6,"v":-21},{"s":"KEP","h":21,"v":-22},{"s":"KEP","h":21.3,"v":-20},{"s":"KEP","h":21.6,"v":-19},{"s":"KEP","h":22,"v":-20},{"s":"KEP","h":22.3,"v":-17},{"s":"KEP","h":22.6,"v":-19},{"s":"KEP","h":22.9,"v":-21},{"s":"KEP","h":23,"v":-28},{"s":"KEP","h":23.2,"v":-22},{"s":"KEP","h":23.45,"v":-17},{"s":"KEP","h":23.65,"v":-18},{"s":"KEP","h":23.85,"v":-35},{"s":"KEP","h":24,"v":-57},
{"s":"ASC","h":0,"v":-50},{"s":"ASC","h":1,"v":-49},{"s":"ASC","h":2,"v":-49},{"s":"ASC","h":3,"v":-48},{"s":"ASC","h":4,"v":-48},{"s":"ASC","h":4.5,"v":-49},{"s":"ASC","h":5,"v":-51},{"s":"ASC","h":5.5,"v":-52},{"s":"ASC","h":6,"v":-53},{"s":"ASC","h":6.5,"v":-54},{"s":"ASC","h":7,"v":-56},{"s":"ASC","h":7.5,"v":-58},{"s":"ASC","h":8,"v":-58},{"s":"ASC","h":8.5,"v":-58},{"s":"ASC","h":9,"v":-57},{"s":"ASC","h":9.5,"v":-56},{"s":"ASC","h":10,"v":-55},{"s":"ASC","h":10.5,"v":-55},{"s":"ASC","h":11,"v":-55},{"s":"ASC","h":11.5,"v":-57},{"s":"ASC","h":12,"v":-58},{"s":"ASC","h":12.5,"v":-59},{"s":"ASC","h":13,"v":-60},{"s":"ASC","h":13.5,"v":-63},{"s":"ASC","h":14,"v":-66},{"s":"ASC","h":14.4,"v":-68},{"s":"ASC","h":14.8,"v":-67},{"s":"ASC","h":15.1,"v":-66},{"s":"ASC","h":15.5,"v":-66},{"s":"ASC","h":16,"v":-65},{"s":"ASC","h":16.5,"v":-63},{"s":"ASC","h":17,"v":-60},{"s":"ASC","h":17.5,"v":-58},{"s":"ASC","h":18,"v":-58},{"s":"ASC","h":19,"v":-58},{"s":"ASC","h":20,"v":-57},{"s":"ASC","h":20.5,"v":-56},{"s":"ASC","h":21,"v":-55},{"s":"ASC","h":21.5,"v":-54},{"s":"ASC","h":22,"v":-53},{"s":"ASC","h":22.5,"v":-52},{"s":"ASC","h":23,"v":-51},{"s":"ASC","h":23.5,"v":-50},{"s":"ASC","h":23.8,"v":-47},{"s":"ASC","h":24,"v":-45},
{"s":"IPM","h":0,"v":-16},{"s":"IPM","h":0.5,"v":-15},{"s":"IPM","h":1,"v":-16},{"s":"IPM","h":1.5,"v":-17},{"s":"IPM","h":2,"v":-17},{"s":"IPM","h":2.5,"v":-17},{"s":"IPM","h":3,"v":-15},{"s":"IPM","h":3.2,"v":-16},{"s":"IPM","h":3.5,"v":-19},{"s":"IPM","h":3.7,"v":-19},{"s":"IPM","h":4,"v":-15},{"s":"IPM","h":4.3,"v":-12},{"s":"IPM","h":4.6,"v":-11},{"s":"IPM","h":5,"v":-12},{"s":"IPM","h":5.2,"v":-10},{"s":"IPM","h":5.5,"v":-11},{"s":"IPM","h":6,"v":-13},{"s":"IPM","h":6.5,"v":-12},{"s":"IPM","h":6.8,"v":-11},{"s":"IPM","h":7,"v":-14},{"s":"IPM","h":7.3,"v":-15},{"s":"IPM","h":7.5,"v":-13},{"s":"IPM","h":8,"v":-12},{"s":"IPM","h":8.5,"v":-13},{"s":"IPM","h":9,"v":-14},{"s":"IPM","h":9.5,"v":-15},{"s":"IPM","h":10,"v":-16},{"s":"IPM","h":10.5,"v":-16},{"s":"IPM","h":11,"v":-18},{"s":"IPM","h":11.5,"v":-19},{"s":"IPM","h":12,"v":-19},{"s":"IPM","h":12.5,"v":-19},{"s":"IPM","h":13,"v":-20},{"s":"IPM","h":13.5,"v":-21},{"s":"IPM","h":14,"v":-22},{"s":"IPM","h":14.5,"v":-22},{"s":"IPM","h":15,"v":-21},{"s":"IPM","h":15.5,"v":-20},{"s":"IPM","h":16,"v":-19},{"s":"IPM","h":16.5,"v":-19},{"s":"IPM","h":17,"v":-18},{"s":"IPM","h":17.5,"v":-17},{"s":"IPM","h":18,"v":-16},{"s":"IPM","h":18.5,"v":-15},{"s":"IPM","h":19,"v":-17},{"s":"IPM","h":19.5,"v":-18},{"s":"IPM","h":20,"v":-20},{"s":"IPM","h":20.5,"v":-22},{"s":"IPM","h":21,"v":-24},{"s":"IPM","h":21.5,"v":-26},{"s":"IPM","h":22,"v":-27},{"s":"IPM","h":22.5,"v":-25},{"s":"IPM","h":23,"v":-23},{"s":"IPM","h":23.5,"v":-20},{"s":"IPM","h":24,"v":-16}
],
"d4": [
{"s":"VSS","h":0,"v":-5},{"s":"VSS","h":0.1,"v":-15},{"s":"VSS","h":0.27,"v":-23},{"s":"VSS","h":0.45,"v":-20},{"s":"VSS","h":0.67,"v":-16},{"s":"VSS","h":0.87,"v":-12},{"s":"VSS","h":1.07,"v":-9},{"s":"VSS","h":1.2,"v":-4},{"s":"VSS","h":1.33,"v":3},{"s":"VSS","h":1.6,"v":5},{"s":"VSS","h":1.87,"v":2},{"s":"VSS","h":2.13,"v":-1},{"s":"VSS","h":2.4,"v":2},{"s":"VSS","h":2.73,"v":-3},{"s":"VSS","h":2.93,"v":0},{"s":"VSS","h":3.2,"v":-3},{"s":"VSS","h":3.53,"v":-4},{"s":"VSS","h":3.87,"v":-3},{"s":"VSS","h":4.13,"v":-1},{"s":"VSS","h":4.27,"v":-2},{"s":"VSS","h":4.47,"v":-5},{"s":"VSS","h":4.8,"v":-11},{"s":"VSS","h":5.07,"v":-10},{"s":"VSS","h":5.33,"v":-11},{"s":"VSS","h":5.6,"v":-10},{"s":"VSS","h":5.8,"v":-8},{"s":"VSS","h":6.13,"v":-4},{"s":"VSS","h":6.67,"v":-5},{"s":"VSS","h":6.93,"v":-6},{"s":"VSS","h":7.47,"v":-4},{"s":"VSS","h":7.87,"v":-1},{"s":"VSS","h":8.27,"v":-8},{"s":"VSS","h":8.53,"v":-10},{"s":"VSS","h":8.93,"v":-6},{"s":"VSS","h":9.33,"v":-5},{"s":"VSS","h":9.73,"v":-2},{"s":"VSS","h":10,"v":2},{"s":"VSS","h":10.27,"v":6},{"s":"VSS","h":10.53,"v":11},{"s":"VSS","h":10.8,"v":12},{"s":"VSS","h":11.33,"v":13},{"s":"VSS","h":11.73,"v":15},{"s":"VSS","h":12,"v":13},{"s":"VSS","h":12.4,"v":15},{"s":"VSS","h":12.83,"v":17.6},{"s":"VSS","h":13.1,"v":16},{"s":"VSS","h":13.43,"v":14.5},{"s":"VSS","h":13.7,"v":10},{"s":"VSS","h":13.96,"v":13},{"s":"VSS","h":14.43,"v":12},{"s":"VSS","h":15.03,"v":13},{"s":"VSS","h":15.4,"v":11},{"s":"VSS","h":15.76,"v":9.6},{"s":"VSS","h":16.3,"v":8},{"s":"VSS","h":16.83,"v":4.6},{"s":"VSS","h":17.36,"v":2},{"s":"VSS","h":17.9,"v":-4.6},{"s":"VSS","h":18.43,"v":-7},{"s":"VSS","h":18.96,"v":-9.6},{"s":"VSS","h":19.5,"v":-11},{"s":"VSS","h":20.03,"v":-12},{"s":"VSS","h":20.83,"v":-11},{"s":"VSS","h":21.1,"v":-10},{"s":"VSS","h":21.3,"v":-13},{"s":"VSS","h":21.63,"v":-8.4},{"s":"VSS","h":21.9,"v":-7.6},{"s":"VSS","h":22.43,"v":-6.3},{"s":"VSS","h":23.1,"v":-5},{"s":"VSS","h":23.76,"v":-5.3},{"s":"VSS","h":24,"v":-3.5},
{"s":"TDC","h":0,"v":9},{"s":"TDC","h":0.2,"v":16},{"s":"TDC","h":0.33,"v":16.8},{"s":"TDC","h":0.53,"v":10.7},{"s":"TDC","h":0.73,"v":-3},{"s":"TDC","h":0.87,"v":-4.6},{"s":"TDC","h":1.07,"v":-13},{"s":"TDC","h":1.33,"v":-20.6},{"s":"TDC","h":1.6,"v":-25.2},{"s":"TDC","h":1.87,"v":-22},{"s":"TDC","h":2.2,"v":-19.8},{"s":"TDC","h":2.4,"v":-22},{"s":"TDC","h":2.8,"v":-19.8},{"s":"TDC","h":3.2,"v":-17.6},{"s":"TDC","h":3.53,"v":-13},{"s":"TDC","h":3.87,"v":-16},{"s":"TDC","h":4.2,"v":-19.8},{"s":"TDC","h":4.53,"v":-15.3},{"s":"TDC","h":4.87,"v":-9.2},{"s":"TDC","h":5,"v":-6.9},{"s":"TDC","h":5.33,"v":-8.4},{"s":"TDC","h":5.73,"v":-10.7},{"s":"TDC","h":6.13,"v":-16.8},{"s":"TDC","h":6.67,"v":-18.3},{"s":"TDC","h":7.2,"v":-24.4},{"s":"TDC","h":7.8,"v":-30.5},{"s":"TDC","h":8.13,"v":-28},{"s":"TDC","h":8.4,"v":-29.5},{"s":"TDC","h":8.93,"v":-33.6},{"s":"TDC","h":9.33,"v":-37.4},{"s":"TDC","h":9.6,"v":-40.5},{"s":"TDC","h":10.27,"v":-39.7},{"s":"TDC","h":10.53,"v":-42.7},{"s":"TDC","h":11.33,"v":-42.3},{"s":"TDC","h":11.76,"v":-42.7},{"s":"TDC","h":12.56,"v":-45},{"s":"TDC","h":13.1,"v":-48},{"s":"TDC","h":13.5,"v":-48.9},{"s":"TDC","h":13.76,"v":-42.7},{"s":"TDC","h":14.16,"v":-45.8},{"s":"TDC","h":14.83,"v":-48},{"s":"TDC","h":15.5,"v":-45.8},{"s":"TDC","h":16.03,"v":-43.5},{"s":"TDC","h":16.36,"v":-42},{"s":"TDC","h":16.83,"v":-43.5},{"s":"TDC","h":17.5,"v":-42},{"s":"TDC","h":17.9,"v":-37},{"s":"TDC","h":18.3,"v":-39},{"s":"TDC","h":19.36,"v":-39},{"s":"TDC","h":20.03,"v":-36.6},{"s":"TDC","h":20.83,"v":-34.4},{"s":"TDC","h":21.16,"v":-32.8},{"s":"TDC","h":21.33,"v":-26.7},{"s":"TDC","h":21.5,"v":-29},{"s":"TDC","h":21.76,"v":-35.9},{"s":"TDC","h":22.16,"v":-32.8},{"s":"TDC","h":22.7,"v":-31.3},{"s":"TDC","h":23.03,"v":-34.4},{"s":"TDC","h":23.5,"v":-32.8},{"s":"TDC","h":23.83,"v":-31.3},{"s":"TDC","h":24,"v":-35.1},
{"s":"PIL","h":0,"v":0.8},{"s":"PIL","h":0.27,"v":3},{"s":"PIL","h":0.53,"v":6},{"s":"PIL","h":0.93,"v":4.9},{"s":"PIL","h":1.33,"v":7.2},{"s":"PIL","h":1.87,"v":6.6},{"s":"PIL","h":2.27,"v":8.7},{"s":"PIL","h":2.67,"v":6.9},{"s":"PIL","h":3.2,"v":5.6},{"s":"PIL","h":3.73,"v":5.6},{"s":"PIL","h":4.27,"v":6.6},{"s":"PIL","h":4.67,"v":4.1},{"s":"PIL","h":5.07,"v":1.5},{"s":"PIL","h":5.6,"v":-1.5},{"s":"PIL","h":6.13,"v":-3},{"s":"PIL","h":6.67,"v":-2.6},{"s":"PIL","h":7.2,"v":-2.3},{"s":"PIL","h":7.87,"v":-1.5},{"s":"PIL","h":8.27,"v":-4.6},{"s":"PIL","h":8.8,"v":-2.3},{"s":"PIL","h":9.33,"v":-1},{"s":"PIL","h":10,"v":-1},{"s":"PIL","h":10.93,"v":-1.5},{"s":"PIL","h":11.6,"v":0},{"s":"PIL","h":11.76,"v":-2.3},{"s":"PIL","h":12.56,"v":-0.5},{"s":"PIL","h":13.1,"v":0.8},{"s":"PIL","h":13.63,"v":2.6},{"s":"PIL","h":14.03,"v":0},{"s":"PIL","h":14.43,"v":-6.1},{"s":"PIL","h":14.96,"v":-13},{"s":"PIL","h":15.36,"v":-15.7},{"s":"PIL","h":15.76,"v":-17.9},{"s":"PIL","h":16.16,"v":-16},{"s":"PIL","h":16.7,"v":-11.5},{"s":"PIL","h":17.1,"v":-8.4},{"s":"PIL","h":17.5,"v":-6.1},{"s":"PIL","h":18.03,"v":-4.6},{"s":"PIL","h":18.56,"v":2.3},{"s":"PIL","h":19.1,"v":7.6},{"s":"PIL","h":19.5,"v":5.3},{"s":"PIL","h":20.03,"v":-2.3},{"s":"PIL","h":20.43,"v":-8.4},{"s":"PIL","h":20.96,"v":-6.9},{"s":"PIL","h":21.36,"v":-5.6},{"s":"PIL","h":21.63,"v":-9.2},{"s":"PIL","h":21.9,"v":-11.1},{"s":"PIL","h":22.7,"v":-11.5},{"s":"PIL","h":22.96,"v":-14.2},{"s":"PIL","h":23.5,"v":-13.3},{"s":"PIL","h":24,"v":-11.1},
{"s":"KEP","h":0,"v":0.8},{"s":"KEP","h":0.13,"v":-13},{"s":"KEP","h":0.27,"v":-20.6},{"s":"KEP","h":0.47,"v":-17.6},{"s":"KEP","h":0.8,"v":-8.4},{"s":"KEP","h":1,"v":-11.5},{"s":"KEP","h":1.13,"v":-12.2},{"s":"KEP","h":1.4,"v":-3},{"s":"KEP","h":1.6,"v":-4.6},{"s":"KEP","h":1.87,"v":-9.2},{"s":"KEP","h":2.13,"v":-12.2},{"s":"KEP","h":2.4,"v":-11.1},{"s":"KEP","h":2.6,"v":-13},{"s":"KEP","h":2.87,"v":-17.3},{"s":"KEP","h":3.07,"v":-16.3},{"s":"KEP","h":3.33,"v":-21.8},{"s":"KEP","h":3.73,"v":-25.2},{"s":"KEP","h":4.13,"v":-23.7},{"s":"KEP","h":4.33,"v":-22.9},{"s":"KEP","h":4.53,"v":-27.5},{"s":"KEP","h":4.8,"v":-34.4},{"s":"KEP","h":5.13,"v":-31.3},{"s":"KEP","h":5.4,"v":-35.1},{"s":"KEP","h":5.67,"v":-37.4},{"s":"KEP","h":5.93,"v":-39.7},{"s":"KEP","h":6.27,"v":-43.5},{"s":"KEP","h":6.67,"v":-48},{"s":"KEP","h":7.2,"v":-49.3},{"s":"KEP","h":7.6,"v":-48},{"s":"KEP","h":7.87,"v":-46.3},{"s":"KEP","h":8.27,"v":-52.7},{"s":"KEP","h":8.67,"v":-56.5},{"s":"KEP","h":9.07,"v":-58.8},{"s":"KEP","h":9.6,"v":-62.6},{"s":"KEP","h":10.13,"v":-62.6},{"s":"KEP","h":10.53,"v":-60.6},{"s":"KEP","h":10.93,"v":-61},{"s":"KEP","h":11.47,"v":-57.3},{"s":"KEP","h":11.76,"v":-60.3},{"s":"KEP","h":12.43,"v":-58},{"s":"KEP","h":12.96,"v":-55.7},{"s":"KEP","h":13.43,"v":-51.9},{"s":"KEP","h":13.7,"v":-56.5},{"s":"KEP","h":14.16,"v":-53.4},{"s":"KEP","h":14.83,"v":-55},{"s":"KEP","h":15.36,"v":-55.7},{"s":"KEP","h":15.76,"v":-53.4},{"s":"KEP","h":16.43,"v":-47.8},{"s":"KEP","h":16.96,"v":-49.3},{"s":"KEP","h":17.36,"v":-50.8},{"s":"KEP","h":17.83,"v":-50.8},{"s":"KEP","h":18.3,"v":-46.9},{"s":"KEP","h":19.1,"v":-45},{"s":"KEP","h":19.76,"v":-42},{"s":"KEP","h":20.43,"v":-40.2},{"s":"KEP","h":21.1,"v":-38.9},{"s":"KEP","h":21.33,"v":-43.5},{"s":"KEP","h":21.76,"v":-38.2},{"s":"KEP","h":22.1,"v":-41.2},{"s":"KEP","h":22.43,"v":-39.7},{"s":"KEP","h":22.96,"v":-38.6},{"s":"KEP","h":23.5,"v":-41.2},{"s":"KEP","h":23.83,"v":-42.7},{"s":"KEP","h":24,"v":-39.7},
{"s":"ASC","h":0,"v":8.7},{"s":"ASC","h":0.27,"v":9.5},{"s":"ASC","h":0.67,"v":7.6},{"s":"ASC","h":1.07,"v":5},{"s":"ASC","h":1.47,"v":2.6},{"s":"ASC","h":2.13,"v":3},{"s":"ASC","h":2.93,"v":2.3},{"s":"ASC","h":3.73,"v":1.5},{"s":"ASC","h":4.67,"v":0},{"s":"ASC","h":5.6,"v":-0.8},{"s":"ASC","h":6.67,"v":-2.3},{"s":"ASC","h":7.73,"v":-2.3},{"s":"ASC","h":8.27,"v":-0.8},{"s":"ASC","h":8.67,"v":0.5},{"s":"ASC","h":10,"v":1},{"s":"ASC","h":10.93,"v":0},{"s":"ASC","h":11.76,"v":-0.8},{"s":"ASC","h":12.83,"v":-0.5},{"s":"ASC","h":13.63,"v":-1.5},{"s":"ASC","h":14.43,"v":-3.8},{"s":"ASC","h":15.23,"v":-4.6},{"s":"ASC","h":16.03,"v":-6.9},{"s":"ASC","h":16.56,"v":-8.4},{"s":"ASC","h":17.1,"v":-7.6},{"s":"ASC","h":17.9,"v":-9.2},{"s":"ASC","h":18.7,"v":-10.7},{"s":"ASC","h":19.76,"v":-11.1},{"s":"ASC","h":20.83,"v":-10.2},{"s":"ASC","h":21.63,"v":-8.4},{"s":"ASC","h":22.43,"v":-7.6},{"s":"ASC","h":23.23,"v":-6.1},{"s":"ASC","h":24,"v":-4.1}
]
},
"concat": [
{
"width": 599, "height": 197,
"title": {"text": "2015-03-18", "dx": -7},
"data": {"name": "d1"},
"mark": {"type": "line", "strokeWidth": 1.5, "clip": true},
"encoding": {
"x": {"field": "h", "type": "quantitative", "scale": {"domain": [0, 24], "nice": false}, "axis": {"values": [0, 5, 10, 15, 20], "title": "hour", "titleX": 306}},
"y": {"field": "v", "type": "quantitative", "scale": {"domain": [-118, 29.5], "nice": false, "zero": false}, "axis": {"values": [-100, -80, -60, -40, -20, 0, 20], "title": "dZ(D)-Z(LT)", "titleX": -32.7, "titleY": 106}},
"color": {"field": "s", "type": "nominal", "scale": {"domain": ["VSS", "TDC", "PIL", "KEP", "ASC", "IPM"], "range": ["#1f77b4", "#ff7f0e", "#2ca02c", "#d62728", "#9467bd", "#8c564b"]}, "legend": {"title": null, "orient": "none", "legendX": 3, "legendY": 61}}
}
},
{
"width": 594, "height": 192,
"title": {"text": "2015-06-23", "dx": -9},
"data": {"name": "d2"},
"mark": {"type": "line", "strokeWidth": 1.5, "clip": true},
"encoding": {
"x": {"field": "h", "type": "quantitative", "scale": {"domain": [0, 24], "nice": false}, "axis": {"values": [0, 5, 10, 15, 20], "title": ["hour", ""], "titleLineHeight": 7, "titleX": 304}},
"y": {"field": "v", "type": "quantitative", "scale": {"domain": [-95.8, 15], "nice": false, "zero": false}, "axis": {"values": [-80, -60, -40, -20, 0], "title": "dZ(D)-Z(LT)", "titleX": -30.3, "titleY": 63}},
"color": {"field": "s", "type": "nominal", "scale": {"domain": ["VSS", "TDC", "PIL", "KEP", "ASC", "IPM"], "range": ["#1f77b4", "#ff7f0e", "#2ca02c", "#d62728", "#9467bd", "#8c564b"]}, "legend": {"title": null, "orient": "none", "legendX": 277, "legendY": 3}}
}
},
{
"width": 588, "height": 191,
"title": {"text": "2015-08-27", "dx": -10},
"data": {"name": "d3"},
"mark": {"type": "line", "strokeWidth": 1.5, "clip": true},
"encoding": {
"x": {"field": "h", "type": "quantitative", "scale": {"domain": [0, 24], "nice": false}, "axis": {"values": [0, 5, 10, 15, 20], "title": ["hour", ""], "titleLineHeight": 6.5, "titleX": 298}},
"y": {"field": "v", "type": "quantitative", "scale": {"domain": [-85.7, 13.3], "nice": false, "zero": false}, "axis": {"values": [-80, -60, -40, -20, 0], "title": "dZ(D)-Z(LT)", "titleX": -32.7, "titleY": 104}},
"color": {"field": "s", "type": "nominal", "scale": {"domain": ["VSS", "TDC", "PIL", "KEP", "ASC", "IPM"], "range": ["#1f77b4", "#ff7f0e", "#2ca02c", "#d62728", "#9467bd", "#8c564b"]}, "legend": {"title": null, "orient": "none", "legendX": 273, "legendY": 3}}
}
},
{
"width": 599, "height": 194,
"title": {"text": "2015-12-21", "dx": -7},
"data": {"name": "d4"},
"mark": {"type": "line", "strokeWidth": 1.5, "clip": true},
"encoding": {
"x": {"field": "h", "type": "quantitative", "scale": {"domain": [0, 24], "nice": false}, "axis": {"values": [0, 5, 10, 15, 20], "title": "hour", "titleX": 306}},
"y": {"field": "v", "type": "quantitative", "scale": {"domain": [-66.4, 22.4], "nice": false, "zero": false}, "axis": {"values": [-60, -50, -40, -30, -20, -10, 0, 10, 20], "title": "dZ(D)-Z(LT)", "titleX": -32.7, "titleY": 105}},
"color": {"field": "s", "type": "nominal", "scale": {"domain": ["VSS", "TDC", "PIL", "KEP", "ASC", "IPM"], "range": ["#1f77b4", "#ff7f0e", "#2ca02c", "#d62728", "#9467bd", "#8c564b"]}, "legend": {"title": null, "orient": "none", "legendX": 2, "legendY": 118}}
}
}
],
"config": {
"view": {"stroke": "#808080", "strokeWidth": 1.5},
"axis": {"domain": false, "ticks": false, "tickSize": 0, "grid": false, "labelFont": "DejaVu Sans Condensed, DejaVu Sans", "labelFontWeight": "bold", "labelColor": "black", "labelExpr": "'' + datum.value", "titleFont": "DejaVu Sans Condensed, DejaVu Sans", "titleFontWeight": "bold", "titleColor": "black"},
"axisX": {"labelFontSize": 17, "labelPadding": 5, "labelFlush": false, "titleFontSize": 19, "titleBaseline": "alphabetic", "titleAlign": "center", "titleY": 26},
"axisY": {"labelFontSize": 14.5, "labelPadding": 5, "titleFontSize": 14.5, "titleAngle": 270, "titleBaseline": "alphabetic", "titleAlign": "center"},
"title": {"font": "DejaVu Sans Condensed, DejaVu Sans", "fontSize": 18, "fontWeight": "bold", "color": "black", "baseline": "alphabetic", "offset": -2.5, "anchor": "middle"},
"legend": {"symbolType": "stroke", "symbolSize": 200, "symbolStrokeWidth": 1.5, "labelFont": "DejaVu Sans", "labelFontSize": 7, "labelColor": "#333333", "padding": 3, "rowPadding": 0.5, "labelOffset": 6, "strokeColor": "#cccccc", "fillColor": "rgba(255,255,255,0.8)", "cornerRadius": 2}
}
}
